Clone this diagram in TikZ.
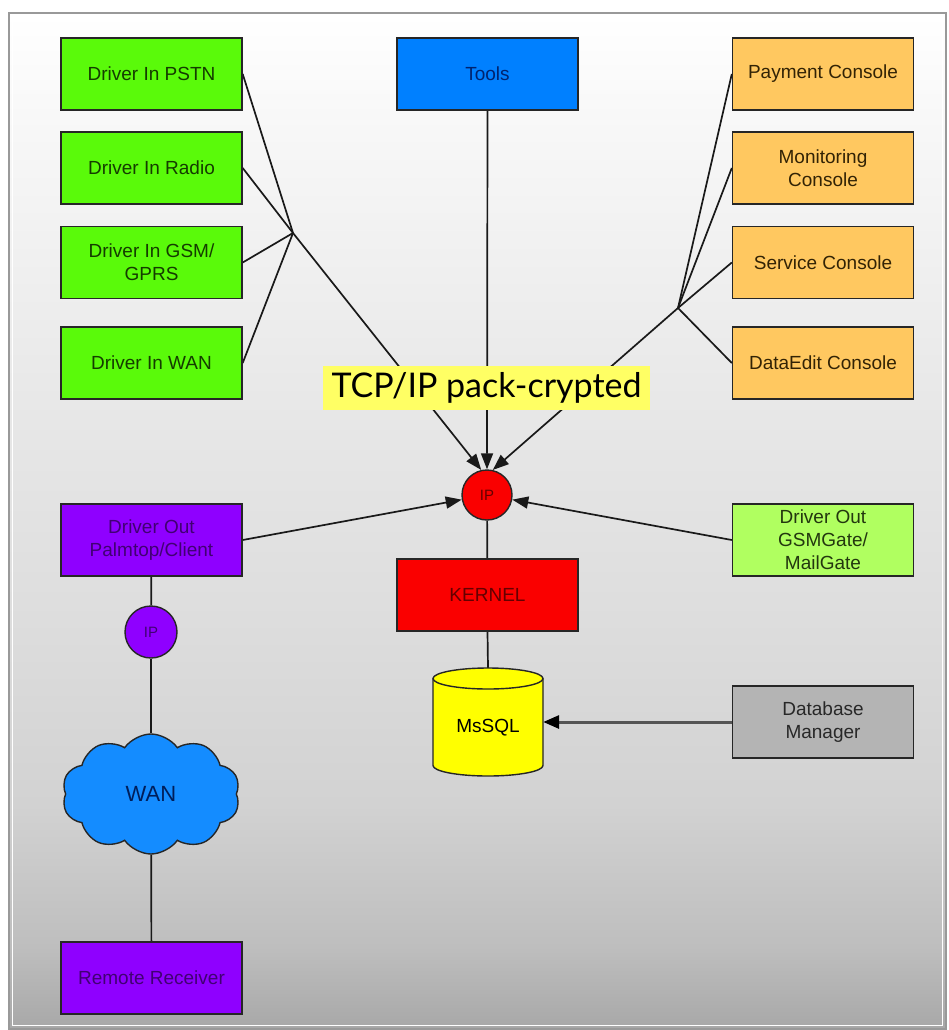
\documentclass[tikz,border=0pt]{standalone}
\usepackage{fontspec}
\setmainfont{Liberation Sans}
\newfontfamily\bannerfont{Lato}
\usetikzlibrary{arrows.meta,shapes.symbols}

% fills
\definecolor{drvin}{RGB}{90,250,10}
\definecolor{toolblue}{RGB}{0,128,255}
\definecolor{console}{RGB}{255,200,96}
\definecolor{kernred}{RGB}{250,0,0}
\definecolor{remote}{RGB}{143,0,255}
\definecolor{gatefill}{RGB}{176,255,96}
\definecolor{dbgray}{RGB}{180,180,180}
\definecolor{sqlyellow}{RGB}{255,255,0}
\definecolor{wanblue}{RGB}{20,140,255}
\definecolor{hilite}{RGB}{255,255,100}
% text colours
\definecolor{drvintxt}{RGB}{20,60,0}
\definecolor{tooltxt}{RGB}{0,35,110}
\definecolor{consoletxt}{RGB}{50,35,5}
\definecolor{kerntxt}{RGB}{100,0,0}
\definecolor{remotetxt}{RGB}{65,0,115}
\definecolor{gatetxt}{RGB}{35,55,15}
\definecolor{dbtxt}{RGB}{40,40,40}
\definecolor{wantxt}{RGB}{0,30,90}
\definecolor{linegray}{RGB}{85,85,85}
% background ramp
\definecolor{bgA}{RGB}{168,168,168}
\definecolor{bgB}{RGB}{190,190,190}
\definecolor{bgC}{RGB}{210,210,210}
\definecolor{bgD}{RGB}{222,222,222}
\definecolor{bgE}{RGB}{232,232,232}
\definecolor{bgF}{RGB}{248,248,248}
\pgfdeclareverticalshading{panelramp}{100bp}{%
  color(0bp)=(bgA); color(25bp)=(bgA); color(29bp)=(bgB); color(36bp)=(bgC);
  color(46bp)=(bgD); color(56bp)=(bgE); color(70bp)=(bgF); color(75bp)=(white);
  color(100bp)=(white)}

\pgfdeclarelayer{panel}
\pgfdeclarelayer{wires}
\pgfsetlayers{panel,wires,main}

\begin{document}
\begin{tikzpicture}[x=1pt,y=-1pt,
  every node/.style={font=\fontsize{19}{23}\selectfont},
  unit/.style={draw=black!85,line width=1.4pt,minimum width=181pt,minimum height=72pt,
    inner sep=0pt,align=center},
  drvinbox/.style={unit,fill=drvin,text=drvintxt},
  toolbox/.style={unit,fill=toolblue,text=tooltxt},
  consolebox/.style={unit,fill=console,text=consoletxt},
  kernbox/.style={unit,fill=kernred,text=kerntxt},
  remotebox/.style={unit,fill=remote,text=remotetxt},
  gatebox/.style={unit,fill=gatefill,text=gatetxt},
  dbbox/.style={unit,fill=dbgray,text=dbtxt},
  ipdot/.style={circle,draw=black!85,line width=1.4pt,minimum size=50pt,inner sep=0pt,
    font=\fontsize{15}{18}\selectfont},
  wire/.style={line width=1.7pt,black!90},
  feed/.style={wire,-{Triangle[length=16pt,width=12pt]}},
]
\useasboundingbox (0,0) rectangle (948,1030);

% panel with its ramp and frame
\begin{pgfonlayer}{panel}
\shade[shading=panelramp] (10,14) rectangle (945,1028);
\draw[draw=black!40,line width=2.5pt] (9,13) rectangle (946,1029);
\draw[draw=white,line width=1pt] (12.5,16.5) rectangle (942.5,1025.5);
\end{pgfonlayer}

% input drivers
\node[drvinbox] (pstn)  at (151.5,74)  {Driver In PSTN};
\node[drvinbox] (radio) at (151.5,168) {Driver In Radio};
\node[drvinbox] (gsm)   at (151.5,262.5) {Driver In GSM/\\GPRS};
\node[drvinbox] (wanin) at (151.5,363) {Driver In WAN};

% tools
\node[toolbox] (tools) at (487.5,74) {Tools};

% consoles
\node[consolebox] (pay)   at (823,74)    {Payment Console};
\node[consolebox] (mon)   at (823,168)   {Monitoring\\Console};
\node[consolebox] (serv)  at (823,262.5) {Service Console};
\node[consolebox] (dedit) at (823,363)   {DataEdit Console};

% banner over the fan-in lines
\node[fill=hilite,minimum width=327pt,minimum height=44pt,inner sep=0pt,
      font=\bannerfont\fontsize{34}{40}\selectfont] (banner) at (486.5,388) {TCP/IP pack-crypted};

% core
\node[ipdot,fill=kernred,text=kerntxt] (ip) at (487,495) {IP};
\node[kernbox] (kernel) at (487.5,595) {KERNEL};

% outgoing drivers
\node[remotebox] (palm) at (151.5,540) {Driver Out\\Palmtop/Client};
\node[gatebox]   (gate) at (823,540)   {Driver Out\\GSMGate/\\MailGate};

% database cylinder
\fill[sqlyellow] (433,679) -- (433,765.5) arc[start angle=180,end angle=0,x radius=55,y radius=10.5]
  -- (543,679) -- cycle;
\draw[line width=1.4pt,black!85] (433,679) -- (433,765.5)
  arc[start angle=180,end angle=0,x radius=55,y radius=10.5] -- (543,679);
\draw[line width=1.4pt,black!85,fill=sqlyellow] (488,678.5) ellipse[x radius=55,y radius=10.5];
\node[minimum width=110pt,minimum height=108pt,inner sep=0pt] (sql) at (488,722) {};
\node at (488,728) {MsSQL};
\node[dbbox] (dbm) at (823,722) {Database\\Manager};

% remote side
\node[ipdot,fill=remote,text=remotetxt,minimum size=52pt] (pip) at (151,632) {IP};
\node[cloud,cloud puffs=10,cloud puff arc=110,aspect=1.6,draw=black!85,line width=1.4pt,
      fill=wanblue,text=wantxt,minimum width=178pt,minimum height=120pt,inner sep=0pt,
      font=\fontsize{22}{26}\selectfont] (wan) at (151,794) {WAN};
\node[remotebox] (recv) at (151.5,978) {Remote Receiver};

% junctions of the fan-in lines
\coordinate (jl) at (293,233);
\coordinate (jr) at (678,308);

\begin{pgfonlayer}{wires}
\foreach \n in {pstn,radio,gsm,wanin} \draw[wire] (\n.east) -- (jl);
\foreach \n in {pay,mon,serv,dedit} \draw[wire] (\n.west) -- (jr);
\draw[feed] (jl) -- (ip.103);
\draw[feed] (jr) -- (ip.77);
\draw[feed] (tools.south) -- (ip.north);
\draw[feed] (palm.east) -- (ip);
\draw[feed] (gate.west) -- (ip);
\draw[wire] (ip) -- (kernel);
\draw[wire] (kernel.south) -- (sql.north);
\draw[line width=3pt,linegray,-{Triangle[length=16pt,width=13pt,color=black]}] (dbm.west) -- (sql.east);
\draw[wire] (palm) -- (pip);
\draw[wire] (pip) -- (wan);
\draw[wire] (wan) -- (recv);
\end{pgfonlayer}
\end{tikzpicture}
\end{document}
